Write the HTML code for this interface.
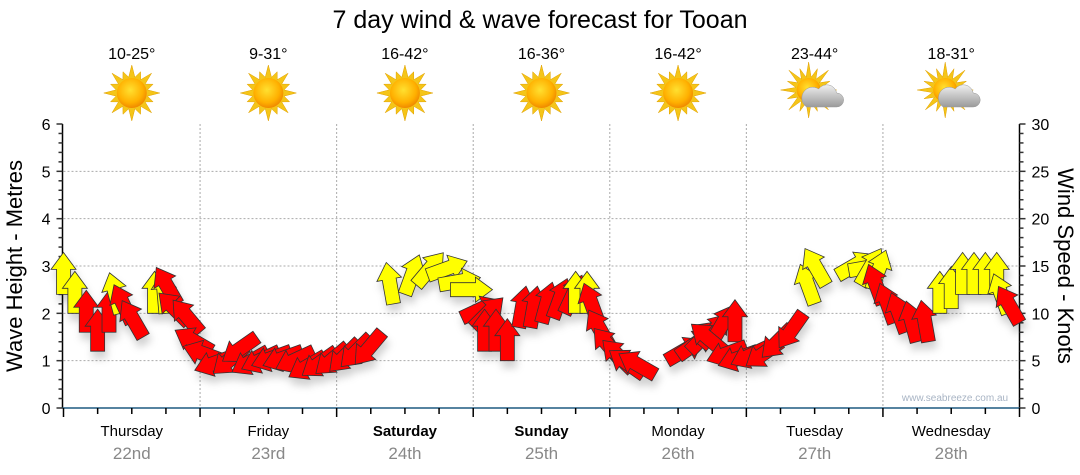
<!DOCTYPE html>
<html><head><meta charset="utf-8"><style>
body{margin:0;background:#fff;width:1080px;height:475px;overflow:hidden}
svg{display:block;font-family:"Liberation Sans",sans-serif}
</style></head><body>
<svg id="c" width="1080" height="475" viewBox="0 0 1080 475">
<defs>
<filter id="sh" x="-50%" y="-50%" width="200%" height="200%"><feDropShadow dx="2" dy="7" stdDeviation="4" flood-color="#000" flood-opacity="0.18"/></filter>
<radialGradient id="sun" cx="45%" cy="40%" r="60%"><stop offset="0" stop-color="#ffe030"/><stop offset="0.7" stop-color="#ffb000"/><stop offset="1" stop-color="#f08a00"/></radialGradient>
<linearGradient id="cl" x1="0" y1="0" x2="0" y2="1"><stop offset="0" stop-color="#f0f0f0"/><stop offset="1" stop-color="#9a9a9a"/></linearGradient>
</defs>
<text x="540" y="28" text-anchor="middle" font-size="25" fill="#000">7 day wind &amp; wave forecast for Tooan</text>
<g id="grid"></g>
<g id="axes"></g>
<g id="top"></g>
<g id="arrows" filter="url(#sh)"></g>
<text x="955" y="401" text-anchor="middle" font-size="10" fill="#a8b4c4">www.seabreeze.com.au</text>
<text transform="translate(22,266) rotate(-90)" text-anchor="middle" font-size="22" fill="#000">Wave Height - Metres</text>
<text transform="translate(1058,266) rotate(90)" text-anchor="middle" font-size="22" fill="#000">Wind Speed - Knots</text>
</svg>
<script>
const days=["Thursday","Friday","Saturday","Sunday","Monday","Tuesday","Wednesday"];
const dates=["22nd","23rd","24th","25th","26th","27th","28th"];
const temps=["10-25°","9-31°","16-42°","16-36°","16-42°","23-44°","18-31°"];
const cloudy=[0,0,0,0,0,1,1];
const boldDays=[0,0,1,1,0,0,0];
const waveTicks=[0,1,2,3,4,5,6];
const windTicks=[0,5,10,15,20,25,30];
const hours=[0,2,4,6,8,10,12,14,16,18,20,22,24,26,28,30,32,34,36,38,40,42,44,46,48,50,52,54,56,58,60,62,64,66,68,70,72,74,76,78,80,82,84,86,88,90,92,94,96,98,100,102,104,106,108,110,112,114,116,118,120,122,124,126,128,130,132,134,136,138,140,142,144,146,148,150,152,154,156,158,160,162,164,166,168];
const windSpeed=[12,10,8,6,8,10,9,7.5,10,10,11,9, 8,6,5,5.5,6.5,7.5,6,6,6,6,6,5.5, 6,6.5,7,7.5,8,11,12,13,14,13,12.5,9.5, 8.5,6,6,5,8.5,8.5,9,9.5,10,10,10,9, 6.5,5,4,3.5,3.5,5,5.5,6,6.5,7,6,7, 6.5,6,6.5,7,8.5,10,11,13,14,14.5,13,12.5, 11,9,8,7,7,10,10.5,12,12,12,12,10,9];
const windDir=[0,0,0,0,0,345,335,330,0,355,330,315, 320,300,290,250,230,235,240,245,250,250,245,240, 235,230,225,225,220,350,20,40,70,80,90,65, 45,0,0,0,10,10,15,20,25,0,0,340, 330,320,315,305,300,60,55,45,40,30,310,0, 250,250,245,235,225,215,340,330,60,80,30,20, 340,340,340,345,350,0,0,0,0,0,0,340,330];
const windColor=["y","y","r","r","r","y","r","r","y","y","r","r", "r","r","r","r","r","r","r","r","r","r","r","r", "r","r","r","r","r","y","y","y","y","y","y","r", "r","r","r","r","r","r","r","r","r","y","y","r", "r","r","r","r","r","r","r","r","r","r","r","r", "r","r","r","r","r","r","y","y","y","y","y","y", "r","r","r","r","r","y","y","y","y","y","y","y","r"];
const NS="http://www.w3.org/2000/svg";
const X0=63.5,X1=1019.5,Y0=408,Y6=124;
const xH=h=>X0+h*(X1-X0)/168;
const yM=m=>Y0-m*(Y0-Y6)/6;
const yK=k=>Y0-k*(Y0-Y6)/30;
function mk(t,a,p){const e=document.createElementNS(NS,t);for(const k in a)e.setAttribute(k,a[k]);p.appendChild(e);return e;}
const grid=document.getElementById('grid'),axes=document.getElementById('axes'),top_=document.getElementById('top'),ar=document.getElementById('arrows');
for(const m of waveTicks){if(m>0&&m<6){const l=mk('line',{x1:X0,x2:X1,y1:yM(m),y2:yM(m),stroke:'#aaa','stroke-dasharray':'2,2'},grid);}}
for(let d=1;d<7;d++){const l=mk('line',{x1:xH(d*24),x2:xH(d*24),y1:Y6,y2:Y0,stroke:'#aaa','stroke-dasharray':'2,2'},grid);}
mk('line',{x1:X0-1,x2:X0-1,y1:Y6,y2:Y0,stroke:'#000','stroke-width':1.5},axes);
mk('line',{x1:X1,x2:X1,y1:Y6,y2:Y0,stroke:'#000','stroke-width':1.5},axes);
const xa=mk('line',{x1:X0-1,x2:X1,y1:Y0,y2:Y0,stroke:'#1e5a80','stroke-width':1.5},axes);

for(let i=0;i<=30;i++){const y=yK(i);const maj=i%5==0;
mk('line',{x1:X0-1-(maj?6:4),x2:X0-1,y1:y,y2:y,stroke:'#333','stroke-width':1.5},axes);
mk('line',{x1:X1,x2:X1+(maj?6:4),y1:y,y2:y,stroke:'#333','stroke-width':1.5},axes);}
for(const m of waveTicks){const t=mk('text',{x:X0-13,y:yM(m)+6,'text-anchor':'end','font-size':16,fill:'#000'},axes);t.textContent=m;}
for(const k of windTicks){const t=mk('text',{x:X1+12,y:yK(k)+6,'text-anchor':'start','font-size':16,fill:'#000'},axes);t.textContent=k;}
for(let h=0;h<=168;h+=6){mk('line',{x1:xH(h),x2:xH(h),y1:Y0,y2:Y0+(h%24==0?9:6),stroke:'#000','stroke-width':1.5},axes);}
days.forEach((d,i)=>{const cx=xH(i*24+12);
const t=mk('text',{x:cx,y:436,'text-anchor':'middle','font-size':15,fill:'#000','font-weight':boldDays[i]?'bold':'normal'},axes);t.textContent=d;

const t2=mk('text',{x:cx,y:459,'text-anchor':'middle','font-size':17,fill:'#888'},axes);t2.textContent=dates[i];

const t3=mk('text',{x:cx,y:59,'text-anchor':'middle','font-size':16,fill:'#000'},top_);t3.textContent=temps[i];

const g=mk('g',{transform:`translate(${cx},93)`},top_);

const sx=cloudy[i]?-6:0,sy=cloudy[i]?-3:0,r=cloudy[i]?12:15;
let pts='';for(let k=0;k<32;k++){const a=k*Math.PI/16,rr=k%2==0?(k%4==0?28:23):r+1;pts+=(sx+rr*Math.sin(a))+','+(sy-rr*Math.cos(a))+' ';}
mk('polygon',{points:pts,fill:'#f5c518',stroke:'#e0a000','stroke-width':0.5},g);
mk('circle',{cx:sx,cy:sy,r:r,fill:'url(#sun)'},g);
if(cloudy[i]){mk('path',{d:'M-8,14 h30 a7,7 0 0 0 0,-14 a10,10 0 0 0 -18,-4 a8,8 0 0 0 -12,18 z',fill:'url(#cl)',stroke:'#999','stroke-width':0.5},g);}
});
const L=42,HW=12.5,SW=7,HL=17;
hours.forEach((h,i)=>{const x=xH(h),y=yK(windSpeed[i]);
const p=mk('polygon',{points:`${-SW},0 ${-SW},${-(L-HL)} ${-HW},${-(L-HL)} 0,${-L} ${HW},${-(L-HL)} ${SW},${-(L-HL)} ${SW},0`,
fill:windColor[i]=='y'?'#ffff00':'#ff0000',stroke:'#333','stroke-width':0.8,'stroke-linejoin':'miter',
transform:`translate(${x},${y}) rotate(${windDir[i]})`},ar);


});
</script>
</body></html>
